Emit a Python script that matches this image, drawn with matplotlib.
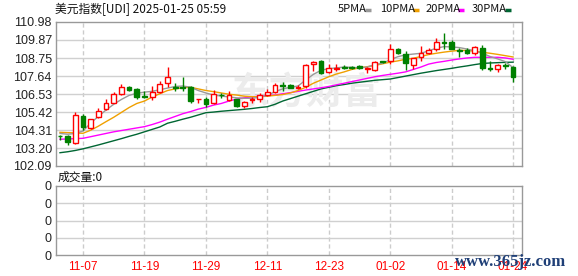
import matplotlib
matplotlib.use('Agg')
import matplotlib.pyplot as plt
from matplotlib.lines import Line2D

# ---------------- data ----------------
dates = ['11-04', '11-05', '11-06', '11-07', '11-08', '11-11', '11-12', '11-13', '11-14', '11-15',
         '11-18', '11-19', '11-20', '11-21', '11-22', '11-25', '11-26', '11-27', '11-28', '11-29',
         '12-02', '12-03', '12-04', '12-05', '12-06', '12-09', '12-10', '12-11', '12-12', '12-13',
         '12-16', '12-17', '12-18', '12-19', '12-20', '12-23', '12-24', '12-25', '12-26', '12-27',
         '12-30', '12-31', '01-01', '01-02', '01-03', '01-06', '01-07', '01-08', '01-09', '01-10',
         '01-13', '01-14', '01-15', '01-16', '01-17', '01-20', '01-21', '01-22', '01-23', '01-24']

opens = [103.97, 103.95, 103.50, 105.18, 104.42, 105.14, 105.62, 106.00, 106.55, 106.95,
         106.83, 106.42, 106.33, 106.68, 107.20, 106.97, 106.97, 106.95, 106.21, 106.21,
         105.96, 106.49, 106.17, 106.21, 105.80, 106.18, 106.20, 106.47, 106.68, 107.06,
         107.09, 106.93, 107.03, 108.39, 108.57, 107.91, 108.10, 108.20, 108.18, 108.25,
         108.10, 108.02, 108.55, 108.57, 109.29, 109.00, 108.33, 108.84, 109.09, 109.29,
         109.75, 109.76, 109.25, 109.25, 109.05, 109.40, 108.14, 108.08, 108.30, 108.22]
highs = [104.00, 104.00, 105.45, 105.30, 105.00, 105.70, 106.20, 106.66, 107.15, 107.03,
         106.90, 106.74, 107.03, 107.34, 108.18, 107.20, 107.60, 107.03, 106.24, 106.33,
         106.78, 106.60, 106.74, 106.25, 106.10, 106.35, 106.60, 106.85, 107.20, 107.30,
         107.15, 107.10, 108.40, 108.60, 108.65, 108.40, 108.40, 108.30, 108.25, 108.30,
         108.20, 108.60, 108.58, 109.65, 109.35, 109.20, 108.74, 109.50, 109.40, 110.00,
         110.32, 109.85, 109.40, 109.40, 109.50, 109.55, 108.55, 108.40, 108.45, 108.25]
lows = [103.72, 103.40, 103.42, 104.30, 104.35, 105.08, 105.55, 105.95, 106.50, 106.75,
        106.25, 106.27, 106.17, 106.60, 106.99, 106.74, 106.74, 106.00, 106.00, 105.75,
        105.90, 106.30, 106.10, 105.75, 105.69, 106.00, 106.05, 106.40, 106.60, 106.75,
        106.90, 106.82, 106.90, 107.95, 107.75, 107.85, 107.95, 108.05, 108.10, 108.10,
        107.85, 107.95, 108.45, 108.40, 109.00, 108.00, 108.10, 108.60, 109.00, 109.20,
        109.30, 109.30, 108.80, 109.00, 108.95, 108.00, 107.95, 107.90, 108.10, 107.30]
closes = [103.93, 103.55, 105.25, 104.50, 104.97, 105.50, 106.00, 106.54, 106.95, 106.80,
          106.33, 106.38, 106.68, 107.13, 107.57, 106.93, 106.93, 106.10, 106.24, 105.92,
          106.55, 106.46, 106.47, 105.80, 106.06, 106.22, 106.47, 106.68, 107.09, 107.00,
          106.92, 106.97, 108.33, 108.53, 107.85, 108.12, 108.13, 108.15, 108.15, 108.15,
          108.13, 108.53, 108.53, 109.29, 109.05, 108.43, 108.74, 109.09, 109.25, 109.73,
          109.70, 109.29, 109.20, 109.09, 109.46, 108.16, 108.10, 108.33, 108.27, 107.60]

ma5 = [104.10, 104.05, 104.10, 104.25, 104.75, 105.15, 105.55, 105.90, 106.20, 106.45,
       106.58, 106.65, 106.70, 106.80, 106.90, 107.00, 107.03, 106.95, 106.75, 106.60,
       106.47, 106.41, 106.35, 106.30, 106.27, 106.27, 106.33, 106.45, 106.68, 106.85,
       106.95, 107.03, 107.40, 107.75, 108.00, 108.10, 108.15, 108.20, 108.18, 108.15,
       108.20, 108.35, 108.43, 108.65, 108.84, 108.95, 109.00, 109.05, 109.20, 109.36,
       109.46, 109.44, 109.40, 109.31, 109.20, 109.05, 108.85, 108.70, 108.53, 108.16]
ma10 = [104.17, 104.15, 104.13, 104.11, 104.30, 104.55, 104.83, 105.10, 105.40, 105.70,
        105.95, 106.10, 106.35, 106.55, 106.75, 106.85, 106.93, 106.95, 106.85, 106.75,
        106.68, 106.60, 106.52, 106.47, 106.40, 106.37, 106.36, 106.40, 106.45, 106.50,
        106.60, 106.75, 106.95, 107.20, 107.40, 107.60, 107.77, 107.90, 108.05, 108.15,
        108.22, 108.30, 108.40, 108.50, 108.58, 108.68, 108.74, 108.85, 108.97, 109.05,
        109.12, 109.18, 109.23, 109.22, 109.18, 109.11, 109.05, 108.98, 108.90, 108.82]
ma20 = [103.74, 103.76, 103.78, 103.80, 103.90, 104.00, 104.10, 104.20, 104.28, 104.36,
        104.44, 104.52, 104.65, 104.80, 104.98, 105.15, 105.32, 105.45, 105.60, 105.71,
        105.85, 105.95, 106.10, 106.22, 106.30, 106.36, 106.40, 106.44, 106.47, 106.55,
        106.62, 106.70, 106.78, 106.85, 106.92, 107.00, 107.10, 107.20, 107.30, 107.40,
        107.50, 107.60, 107.68, 107.75, 107.82, 107.90, 108.05, 108.20, 108.38, 108.48,
        108.55, 108.63, 108.70, 108.76, 108.80, 108.80, 108.80, 108.80, 108.76, 108.68]
ma30 = [102.91, 102.97, 103.05, 103.15, 103.27, 103.39, 103.52, 103.65, 103.78, 103.92,
        104.05, 104.20, 104.35, 104.50, 104.73, 104.85, 104.98, 105.10, 105.24, 105.38,
        105.42, 105.47, 105.51, 105.55, 105.59, 105.64, 105.70, 105.75, 105.90, 106.10,
        106.25, 106.40, 106.55, 106.70, 106.85, 106.95, 107.05, 107.12, 107.20, 107.26,
        107.32, 107.38, 107.42, 107.46, 107.55, 107.64, 107.73, 107.82, 107.90, 107.98,
        108.05, 108.12, 108.20, 108.27, 108.35, 108.42, 108.45, 108.47, 108.49, 108.50]

price_ticks = [102.09, 103.20, 104.31, 105.42, 106.53, 107.64, 108.75, 109.87, 110.98]
label_dates = ['11-07', '11-19', '11-29', '12-11', '12-23', '01-02', '01-14', '01-24']
volume_tick_labels = ['0', '0', '0', '0', '0']
ma_names = ['5PMA', '10PMA', '20PMA', '30PMA']
title_text = '美元指数[UDI] 2025-01-25 05:59'
volume_title = '成交量:0'

# ---------------- styling ----------------
W, H = 578, 276
fig = plt.figure(figsize=(W / 100, H / 100), dpi=100)
CJK = ['Noto Sans CJK SC', 'DejaVu Sans']

def fx(px):
    return px / W

def fy(py):
    return 1 - py / H

up_col = '#ff0000'
dn_col = '#008000'
ma_cols = ['#999999', '#f0a000', '#ff00ff', '#006633']
grid_col = '#d0d0d0'
frame_col = '#999999'

ax = fig.add_axes([fx(56), fy(166), fx(522) - fx(56), fy(22) - fy(166)])
axv = fig.add_axes([fx(56), fy(255), fx(522) - fx(56), fy(186) - fy(255)])

n = len(dates)
xs = list(range(n))
xlim = (-0.52, 60.16)
label_idx = [dates.index(d) for d in label_dates]

for a in (ax, axv):
    a.set_xlim(*xlim)
    for s in a.spines.values():
        s.set_color(frame_col)
        s.set_linewidth(1)
    a.tick_params(length=0)
    for xi in label_idx:
        a.axvline(xi, color='#cccccc', lw=1, ls=(0, (3, 2)), zorder=1)

# main panel
ax.set_ylim(price_ticks[0], price_ticks[-1])
ax.set_yticks(price_ticks)
ax.set_yticklabels([f'{v:.2f}' for v in price_ticks], fontsize=9,
                   family='Liberation Sans', color='#222222')
ax.tick_params(axis='y', pad=3)
ax.set_xticks([])
for v in price_ticks[1:-1]:
    ax.axhline(v, color=grid_col, lw=1, zorder=1)

# faint watermark logo text
ax.text(fx(232), fy(93), '东方财富', transform=fig.transFigure, fontsize=27,
        family=CJK, fontweight='bold', color='#ececec', ha='left', va='center',
        style='italic', zorder=1.5)

for vals, col in zip([ma30, ma20, ma10, ma5], ma_cols[::-1]):
    ax.plot(xs, vals, color=col, lw=1, zorder=2)

for i in xs:
    o, h, l, c = opens[i], highs[i], lows[i], closes[i]
    up = c >= o
    col = up_col if up else dn_col
    ax.vlines(i, l, h, color=col, lw=1, zorder=3)
    bottom = min(o, c)
    height = max(abs(c - o), 0.004)
    ax.bar(i, height, bottom=bottom, width=0.62,
           facecolor='white' if up else col, edgecolor=col, lw=1, zorder=4)

# volume panel
axv.set_ylim(0, 4)
axv.set_yticks(range(5))
axv.set_yticklabels(volume_tick_labels, fontsize=9, family='Liberation Sans', color='#222222')
axv.tick_params(axis='y', pad=3)
for v in (1, 2, 3):
    axv.axhline(v, color=grid_col, lw=1, zorder=1)
axv.set_xticks(label_idx)
axv.set_xticklabels(label_dates, fontsize=8.5, family='Liberation Sans', color='#ff0000')
axv.tick_params(axis='x', pad=4)

# header texts
fig.text(fx(55), fy(9), title_text, fontsize=8.5, family=CJK, color='#111111',
         ha='left', va='center')
legend_x = [338, 380, 426, 472]
mark_x = [365, 413, 458, 505]
for name, lx, mx, col in zip(ma_names, legend_x, mark_x, ma_cols):
    fig.text(fx(lx), fy(9), name, fontsize=8, family=CJK, color='#111111',
             ha='left', va='center')
    fig.add_artist(Line2D([fx(mx), fx(mx + 6)], [fy(9.5), fy(9.5)], color=col,
                          lw=2.5, transform=fig.transFigure, solid_capstyle='butt'))

fig.text(fx(58), fy(177), volume_title, fontsize=8.5, family=CJK, color='#111111',
         ha='left', va='center')

# site watermark
fig.text(fx(455), fy(262), 'www.365jz.com', fontsize=12, family='Liberation Serif',
         fontweight='bold', color='#1f3f77', ha='left', va='center', zorder=10)

fig.savefig('out.png', dpi=100)
